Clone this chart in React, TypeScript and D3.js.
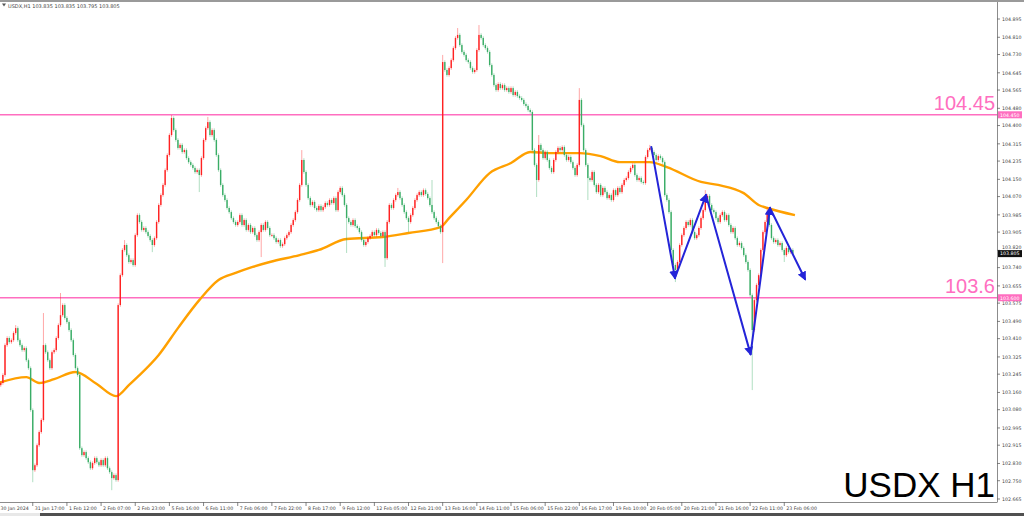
import React, { useEffect } from 'react';
import * as d3 from 'd3';

// ---------- DATA ----------
const headerText = 'USDX,H1  103.835 103.835 103.795 103.805';
const firstOpen = 103.171;
const closes: number[] = [
  103.194, 103.204, 103.241, 103.380, 103.413, 103.394, 103.403, 103.436, 103.459, 103.403, 103.380, 103.357, 103.366, 103.310, 103.273, 103.078,
  102.799, 102.822, 102.915, 102.976, 103.032, 103.380, 103.347, 103.310, 103.273, 103.347, 103.357, 103.413, 103.473, 103.519, 103.566, 103.506,
  103.487, 103.450, 103.403, 103.334, 103.273, 103.241, 102.901, 102.869, 102.883, 102.855, 102.836, 102.808, 102.832, 102.855, 102.836, 102.822,
  102.846, 102.822, 102.855, 102.808, 102.790, 102.762, 102.776, 102.753, 103.566, 103.705, 103.822, 103.845, 103.798, 103.766, 103.775, 103.752,
  103.891, 103.984, 103.952, 103.915, 103.924, 103.905, 103.887, 103.868, 103.845, 103.877, 103.952, 104.031, 104.077, 104.124, 104.193, 104.263,
  104.356, 104.435, 104.379, 104.333, 104.296, 104.310, 104.277, 104.286, 104.249, 104.230, 104.217, 104.203, 104.184, 104.193, 104.170, 104.249,
  104.333, 104.388, 104.416, 104.356, 104.379, 104.333, 104.263, 104.193, 104.124, 104.077, 104.054, 104.017, 103.998, 103.970, 103.952, 103.938,
  103.952, 103.984, 103.938, 103.961, 103.915, 103.938, 103.905, 103.924, 103.891, 103.868, 103.905, 103.938, 103.915, 103.952, 103.924, 103.891,
  103.891, 103.877, 103.859, 103.868, 103.840, 103.849, 103.877, 103.891, 103.905, 103.938, 103.961, 103.998, 104.054, 104.124, 104.240, 104.184,
  104.124, 104.063, 104.031, 104.045, 104.017, 104.007, 104.026, 104.007, 104.021, 104.040, 104.031, 104.054, 104.040, 104.063, 104.007, 104.091,
  104.110, 104.077, 104.031, 103.970, 103.952, 103.938, 103.961, 103.933, 103.924, 103.905, 103.868, 103.845, 103.859, 103.877, 103.887, 103.905,
  103.891, 103.915, 103.901, 103.887, 103.905, 103.784, 103.952, 104.031, 104.017, 104.054, 104.077, 104.091, 104.063, 104.031, 103.998, 103.970,
  103.952, 103.984, 104.017, 104.054, 104.077, 104.091, 104.077, 104.100, 104.082, 104.063, 104.031, 103.998, 103.970, 103.952, 103.933, 103.905,
  104.695, 104.658, 104.635, 104.667, 104.704, 104.760, 104.807, 104.821, 104.774, 104.742, 104.728, 104.704, 104.695, 104.667, 104.649, 104.658,
  104.751, 104.821, 104.807, 104.774, 104.760, 104.742, 104.681, 104.635, 104.588, 104.565, 104.593, 104.574, 104.588, 104.565, 104.574, 104.556,
  104.574, 104.542, 104.556, 104.537, 104.528, 104.519, 104.500, 104.491, 104.472, 104.463, 104.286, 104.217, 104.147, 104.310, 104.286, 104.249,
  104.277, 104.240, 104.203, 104.184, 104.240, 104.277, 104.296, 104.286, 104.300, 104.263, 104.240, 104.254, 104.230, 104.203, 104.170, 104.217,
  104.519, 104.402, 104.286, 104.217, 104.156, 104.147, 104.184, 104.124, 104.091, 104.124, 104.077, 104.110, 104.091, 104.063, 104.077, 104.054,
  104.100, 104.077, 104.110, 104.091, 104.124, 104.147, 104.156, 104.184, 104.203, 104.217, 104.170, 104.147, 104.156, 104.138, 104.133, 104.254,
  104.286, 104.296, 104.277, 104.263, 104.240, 104.258, 104.249, 104.230, 104.077, 104.054, 103.998, 103.822, 103.752, 103.729, 103.766, 103.845,
  103.891, 103.924, 103.952, 103.938, 103.961, 103.905, 103.877, 103.891, 103.924, 103.970, 104.007, 104.054, 104.073, 104.031, 104.007, 103.998,
  103.970, 103.952, 103.984, 103.998, 103.961, 103.984, 103.938, 103.905, 103.924, 103.877, 103.845, 103.854, 103.831, 103.798, 103.766, 103.729,
  103.612, 103.450, 103.589, 103.659, 103.705, 103.822, 103.905, 103.952, 103.998, 103.938, 103.877, 103.859, 103.868, 103.845, 103.854, 103.822,
  103.798, 103.831, 103.812, 103.822, 103.805,
];
// long wick extremes: [bar, price]
const wickHighs: [number, number][] = [
  [8, 103.473], [21, 103.529], [29, 103.622], [59, 103.868], [81, 104.449], [98, 104.440], [142, 104.286],
  [187, 104.110], [203, 104.147], [208, 104.728], [215, 104.853], [225, 104.867], [253, 104.356],
  [272, 104.574], [305, 104.310], [331, 104.100], [360, 104.021],
];
const wickLows: [number, number][] = [
  [16, 102.743], [53, 102.706], [72, 103.812], [94, 104.091], [123, 103.789], [163, 103.808], [181, 103.743],
  [192, 103.905], [208, 103.761], [252, 104.068], [276, 104.054], [317, 103.673], [353, 103.171], [368, 103.766],
];
// moving average read at bars: [bar, value]
const maPoints: [number, number][] = [
  [0, 103.204], [13, 103.231], [19, 103.204], [26, 103.222], [36, 103.255], [46, 103.199], [55, 103.143],
  [61, 103.194], [65, 103.231], [75, 103.334], [84, 103.459], [94, 103.589], [103, 103.682], [111, 103.715],
  [119, 103.743], [127, 103.766], [141, 103.798], [150, 103.822], [163, 103.873], [180, 103.882], [192, 103.901],
  [207, 103.928], [211, 103.970], [219, 104.054], [230, 104.179], [240, 104.226], [249, 104.277], [258, 104.272],
  [272, 104.272], [282, 104.258], [291, 104.230], [305, 104.230], [313, 104.207], [329, 104.138], [337, 104.124],
  [349, 104.086], [356, 104.031], [360, 104.017], [373, 103.984],
];
const timeLabels = [
  '30 Jan 2024', '31 Jan 17:00', '1 Feb 12:00', '2 Feb 07:00', '2 Feb 23:00', '5 Feb 16:00', '6 Feb 11:00',
  '7 Feb 06:00', '7 Feb 22:00', '8 Feb 17:00', '9 Feb 12:00', '12 Feb 05:00', '12 Feb 21:00', '13 Feb 16:00',
  '14 Feb 11:00', '15 Feb 06:00', '15 Feb 22:00', '16 Feb 17:00', '19 Feb 10:00', '20 Feb 05:00', '20 Feb 21:00',
  '21 Feb 16:00', '22 Feb 11:00', '23 Feb 06:00',
];
const barsPerLabel = 16;
const priceTicks = [
  '104.895', '104.810', '104.730', '104.645', '104.565', '104.480', '104.400', '104.315', '104.235', '104.150',
  '104.070', '103.985', '103.905', '103.820', '103.740', '103.655', '103.575', '103.490', '103.410', '103.325',
  '103.245', '103.160', '103.080', '102.995', '102.915', '102.830', '102.750', '102.665',
];
const levels = [104.45, 103.6];
const levelLabels = ['104.45', '103.6'];
const levelBoxLabels = ['104.450', '103.600'];
const lastPrice = 103.805;
const lastPriceLabel = '103.805';
// zigzag pattern vertices: [bar, price]
const zigzag: [number, number][] = [
  [305.7, 104.300], [316.8, 103.692], [331.3, 104.077], [352.2, 103.338], [361.3, 104.017], [377.7, 103.687],
];
const chartTitle = 'USDX H1';

// ---------- LAYOUT ----------
const W = 1024, H = 516;
const plotRight = 997, plotBottom = 502, plotTop = 2;
const wickPad = 0.008;

export default function App() {
  useEffect(() => {
    document.body.style.margin = '0';
  }, []);

  const x = d3.scaleLinear().domain([0, 372]).range([-1.4, -1.4 + 372 * 2.135]);
  const y = d3.scaleLinear().domain([102.665, 104.895]).range([499, 19]);

  const hiMap = new Map(wickHighs);
  const loMap = new Map(wickLows);
  const candles = closes.map((c, i) => {
    const o = i === 0 ? firstOpen : closes[i - 1];
    const up = c >= o;
    const hi = hiMap.has(i) ? hiMap.get(i)! : Math.max(o, c) + wickPad;
    const lo = loMap.has(i) ? loMap.get(i)! : Math.min(o, c) - wickPad;
    return { i, o, c, hi, lo, up };
  });

  const maLine = d3.line<[number, number]>()
    .x(d => x(d[0]))
    .y(d => y(d[1]))
    .curve(d3.curveMonotoneX)(maPoints) || '';

  const red = '#ff2222', green = '#3aad66';
  const pink = '#ff6ec0';
  const blue = '#2424d8';
  const small = { fontFamily: 'DejaVu Sans, sans-serif', fontSize: 4.7, fill: '#444' } as const;

  // hide tick labels that sit behind the last-price box (as in the reference)
  const lastY = y(lastPrice);

  return (
    <svg width={W} height={H} style={{ position: 'absolute', left: 0, top: 0, display: 'block', background: '#fff' }}>
      <defs>
        <clipPath id="plot"><rect x={0} y={plotTop} width={plotRight} height={plotBottom - plotTop} /></clipPath>
        <marker id="arrow" viewBox="0 0 10 10" refX={8} refY={5} markerWidth={4.5} markerHeight={4.5} orient="auto" markerUnits="strokeWidth">
          <path d="M0,0 L10,5 L0,10 z" fill={blue} />
        </marker>
      </defs>
      <rect x={0} y={0} width={W} height={H} fill="#fff" />
      <rect x={0} y={0} width={W} height={2} fill="#9a9a9a" />

      {/* level lines */}
      {levels.map((lv, k) => (
        <line key={'lv' + k} x1={0} x2={plotRight} y1={y(lv)} y2={y(lv)} stroke={pink} strokeWidth={1.6} />
      ))}

      <g clipPath="url(#plot)">
        {/* MA */}
        <path d={maLine} fill="none" stroke="#ffa000" strokeWidth={2.4} strokeLinejoin="round" />
        {/* candles */}
        {candles.map(d => {
          const cx = x(d.i);
          const col = d.up ? red : green;
          const top = y(Math.max(d.o, d.c));
          const bot = y(Math.min(d.o, d.c));
          return (
            <g key={d.i}>
              <line x1={cx} x2={cx} y1={y(d.hi)} y2={y(d.lo)} stroke={col} strokeOpacity={0.4} strokeWidth={1} />
              <rect x={cx - 0.7} y={top} width={1.4} height={Math.max(0.8, bot - top)} fill={col} />
            </g>
          );
        })}
        {/* zigzag */}
        {zigzag.slice(1).map((p, k) => {
          const a = zigzag[k];
          return (
            <line key={'z' + k} x1={x(a[0])} y1={y(a[1])} x2={x(p[0])} y2={y(p[1])}
              stroke={blue} strokeWidth={2} markerEnd="url(#arrow)" strokeLinecap="round" />
          );
        })}
      </g>

      {/* frame */}
      <line x1={plotRight + 0.5} x2={plotRight + 0.5} y1={plotTop} y2={plotBottom} stroke="#8c8c8c" strokeWidth={1} />
      <line x1={0} x2={plotRight + 0.5} y1={plotBottom + 0.5} y2={plotBottom + 0.5} stroke="#8c8c8c" strokeWidth={1} />

      {/* header */}
      <path d="M2,3.5 L6,3.5 L4,6.5 z" fill="#555" />
      <text x={8} y={7.5} style={{ ...small, fontSize: 5 }}>{headerText}</text>

      {/* price axis */}
      {priceTicks.map(t => {
        const ty = y(+t);
        const hidden = Math.abs(ty - lastY) < 6;
        return (
          <g key={t}>
            <line x1={plotRight} x2={plotRight + 3} y1={ty} y2={ty} stroke="#666" strokeWidth={0.8} />
            <text x={plotRight + 5} y={hidden ? lastY - 5 : ty + 1.8} style={small}>{t}</text>
          </g>
        );
      })}

      {/* level labels */}
      {levels.map((lv, k) => (
        <g key={'ll' + k}>
          <text x={995} y={y(lv) - 5} textAnchor="end" fontFamily="Liberation Sans, Arial, sans-serif" fontSize={20} fill={pink}>{levelLabels[k]}</text>
          <rect x={plotRight + 1} y={y(lv) - 3.5} width={24} height={7} fill={pink} />
          <text x={plotRight + 3} y={y(lv) + 1.8} style={{ ...small, fill: '#fff' }}>{levelBoxLabels[k]}</text>
        </g>
      ))}
      <rect x={plotRight + 1} y={lastY - 3.5} width={24} height={7} fill="#111" />
      <text x={plotRight + 3} y={lastY + 1.8} style={{ ...small, fill: '#fff' }}>{lastPriceLabel}</text>

      {/* time axis */}
      {timeLabels.map((t, k) => {
        const tx = x(k * barsPerLabel);
        return (
          <g key={t}>
            <line x1={tx} x2={tx} y1={plotBottom} y2={plotBottom + 4} stroke="#666" strokeWidth={0.8} />
            <text x={Math.max(0, tx + 2)} y={510} style={small}>{t}</text>
          </g>
        );
      })}

      {/* title */}
      <text x={995} y={497} textAnchor="end" fontFamily="Liberation Sans, Arial, sans-serif" fontSize={35} fill="#000">{chartTitle}</text>

      {/* bottom bar */}
      <rect x={0} y={513} width={W} height={3} fill="#505050" />
      <rect x={0} y={513} width={40} height={3} fill="#e8e8e8" />
    </svg>
  );
}
